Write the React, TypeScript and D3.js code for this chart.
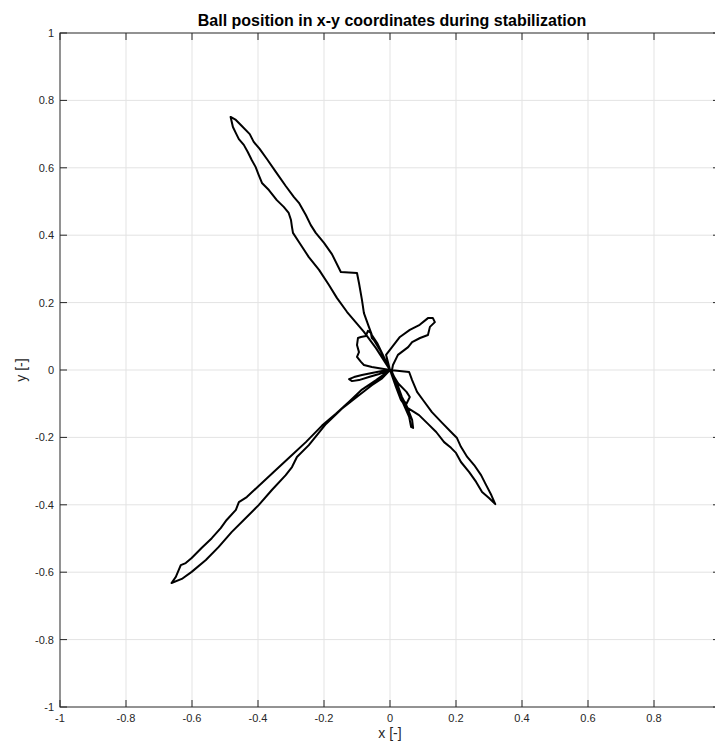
import React, { useEffect, useRef } from "react";
import * as d3 from "d3";

const title = "Ball position in x-y coordinates during stabilization";
const xLabel = "x [-]";
const yLabel = "y [-]";
const xTicks = [-1, -0.8, -0.6, -0.4, -0.2, 0, 0.2, 0.4, 0.6, 0.8, 1];
const yTicks = [-1, -0.8, -0.6, -0.4, -0.2, 0, 0.2, 0.4, 0.6, 0.8, 1];

type P = [number, number];

const upperLeftLobe: P[] = [
  [0, 0], [-0.0425, 0.065], [-0.079, 0.113], [-0.13, 0.172], [-0.161, 0.214], [-0.185, 0.252],
  [-0.215, 0.297], [-0.246, 0.335], [-0.276, 0.38], [-0.294, 0.407], [-0.297, 0.424], [-0.3, 0.445],
  [-0.307, 0.466], [-0.322, 0.484], [-0.343, 0.504], [-0.367, 0.534], [-0.388, 0.555], [-0.398, 0.579],
  [-0.407, 0.602], [-0.419, 0.623], [-0.431, 0.647], [-0.443, 0.668], [-0.458, 0.685], [-0.467, 0.703],
  [-0.476, 0.721], [-0.483, 0.751],
  [-0.467, 0.742], [-0.449, 0.724], [-0.425, 0.7], [-0.413, 0.677], [-0.395, 0.656], [-0.373, 0.626],
  [-0.346, 0.588], [-0.316, 0.546], [-0.291, 0.513], [-0.276, 0.496], [-0.255, 0.46], [-0.24, 0.43],
  [-0.225, 0.407], [-0.2, 0.377], [-0.176, 0.344], [-0.149, 0.291], [-0.1, 0.288], [-0.094, 0.258],
  [-0.085, 0.208], [-0.079, 0.169], [-0.064, 0.128], [-0.055, 0.104], [-0.039, 0.08], [-0.024, 0.05],
  [0, 0],
];

const leftSmallLobe: P[] = [
  [-0.055, 0.009], [-0.079, 0.015], [-0.088, 0.024], [-0.1, 0.039], [-0.094, 0.053], [-0.1, 0.074],
  [-0.097, 0.095], [-0.088, 0.098], [-0.073, 0.101], [-0.067, 0.116], [-0.058, 0.11], [-0.055, 0.095],
  [-0.049, 0.089], [-0.03, 0.059], [-0.015, 0.03], [0, 0],
];

const leftFlick: P[] = [
  [-0.024, -0.003], [-0.055, -0.009], [-0.085, -0.015], [-0.109, -0.021], [-0.124, -0.027],
  [-0.115, -0.033], [-0.094, -0.03], [-0.064, -0.021], [-0.033, -0.012], [0, 0],
];

const lowerLeftLobe: P[] = [
  [-0.042, -0.03], [-0.085, -0.058], [-0.124, -0.094], [-0.164, -0.13], [-0.206, -0.165],
  [-0.255, -0.214], [-0.297, -0.252], [-0.346, -0.297], [-0.398, -0.344], [-0.434, -0.377],
  [-0.458, -0.392], [-0.467, -0.415], [-0.495, -0.445], [-0.513, -0.469], [-0.54, -0.499],
  [-0.571, -0.528], [-0.601, -0.558], [-0.619, -0.573], [-0.634, -0.579], [-0.649, -0.614],
  [-0.662, -0.632],
  [-0.631, -0.62], [-0.601, -0.599], [-0.558, -0.564], [-0.519, -0.525], [-0.48, -0.481],
  [-0.437, -0.439], [-0.398, -0.401], [-0.358, -0.356], [-0.316, -0.312], [-0.297, -0.288],
  [-0.282, -0.258], [-0.246, -0.223], [-0.194, -0.16], [-0.146, -0.115], [-0.094, -0.075],
  [-0.055, -0.045], [-0.024, -0.025], [0, 0],
];

const lowerRightLobe: P[] = [
  [0.058, -0.006], [0.067, -0.03], [0.082, -0.065], [0.1, -0.089], [0.127, -0.125], [0.158, -0.157],
  [0.185, -0.184], [0.203, -0.202], [0.215, -0.228], [0.234, -0.258], [0.255, -0.282], [0.276, -0.312],
  [0.291, -0.341], [0.307, -0.371], [0.319, -0.398],
  [0.3, -0.38], [0.279, -0.362], [0.261, -0.332], [0.24, -0.303], [0.215, -0.273], [0.2, -0.246],
  [0.185, -0.231], [0.164, -0.214], [0.14, -0.184], [0.112, -0.157], [0.088, -0.134], [0.064, -0.119],
  [0.049, -0.11], [0.033, -0.089], [0.018, -0.05], [0, 0],
];

const downFlick: P[] = [
  [0.006, -0.006], [0.021, -0.039], [0.036, -0.08], [0.052, -0.11], [0.067, -0.148], [0.07, -0.172],
  [0.064, -0.169], [0.058, -0.139], [0.045, -0.11], [0.03, -0.077], [0.015, -0.039], [0, 0],
  [0.025, -0.04], [0.05, -0.065], [0.06, -0.08], [0.05, -0.1], [0.04, -0.09], [0, 0],
];

const upperRightLobe: P[] = [
  [-0.012, 0.045], [0.03, 0.098], [0.06, 0.119], [0.09, 0.134], [0.115, 0.154], [0.13, 0.154],
  [0.136, 0.142], [0.121, 0.128], [0.115, 0.104], [0.091, 0.095], [0.067, 0.083], [0.055, 0.068],
  [0.024, 0.045], [0.009, 0.015], [0.006, 0], [0, 0],
];

const trajectory: P[] = [
  ...upperLeftLobe,
  ...leftSmallLobe,
  ...leftFlick,
  ...lowerLeftLobe,
  ...lowerRightLobe,
  ...downFlick,
  ...upperRightLobe,
];

const W = 715;
const H = 742;
const left = 60;
const right = 720;
const top = 33;
const bottom = 707;

const fmt = (v: number) => {
  const r = Math.round(v * 10) / 10;
  return (Object.is(r, -0) ? 0 : r).toString();
};

export default function App() {
  const ref = useRef<SVGSVGElement>(null);
  useEffect(() => {
    const svg = d3.select(ref.current);
    svg.selectAll("*").remove();
    const x = d3.scaleLinear().domain([-1, 1]).range([left, right]);
    const y = d3.scaleLinear().domain([-1, 1]).range([bottom, top]);
    const axisColor = "#262626";
    const font = "Liberation Sans, Arial, Helvetica, sans-serif";

    svg.append("rect").attr("width", W).attr("height", H).attr("fill", "#fff");

    svg.append("defs").append("clipPath").attr("id", "plotclip")
      .append("rect").attr("x", left).attr("y", top).attr("width", right - left).attr("height", bottom - top);

    const grid = svg.append("g").attr("stroke", "#e3e3e3").attr("stroke-width", 1);
    xTicks.slice(1, -1).forEach((t) => {
      grid.append("line").attr("x1", x(t)).attr("x2", x(t)).attr("y1", top).attr("y2", bottom);
    });
    yTicks.slice(1, -1).forEach((t) => {
      grid.append("line").attr("y1", y(t)).attr("y2", y(t)).attr("x1", left).attr("x2", right);
    });

    const line = d3.line<P>().x((d) => x(d[0])).y((d) => y(d[1]));
    svg.append("path")
      .attr("clip-path", "url(#plotclip)")
      .attr("d", line(trajectory))
      .attr("fill", "none")
      .attr("stroke", "#000")
      .attr("stroke-width", 2)
      .attr("stroke-linejoin", "round")
      .attr("stroke-linecap", "round");

    const ax = svg.append("g").attr("stroke", axisColor).attr("stroke-width", 1);
    ax.append("rect").attr("x", left).attr("y", top).attr("width", right - left).attr("height", bottom - top).attr("fill", "none");
    const tl = 7;
    xTicks.forEach((t) => {
      ax.append("line").attr("x1", x(t)).attr("x2", x(t)).attr("y1", bottom).attr("y2", bottom - tl);
      ax.append("line").attr("x1", x(t)).attr("x2", x(t)).attr("y1", top).attr("y2", top + tl);
    });
    yTicks.forEach((t) => {
      ax.append("line").attr("y1", y(t)).attr("y2", y(t)).attr("x1", left).attr("x2", left + tl);
      ax.append("line").attr("y1", y(t)).attr("y2", y(t)).attr("x1", right).attr("x2", right - tl);
    });

    const labels = svg.append("g").attr("fill", axisColor).attr("font-family", font).attr("font-size", 11);
    xTicks.slice(0, -1).forEach((t) => {
      labels.append("text").attr("x", x(t)).attr("y", bottom + 15).attr("text-anchor", "middle").text(fmt(t));
    });
    yTicks.forEach((t) => {
      labels.append("text").attr("x", left - 6).attr("y", y(t) + 4).attr("text-anchor", "end").text(fmt(t));
    });

    svg.append("text").attr("x", (left + right) / 2 + 2).attr("y", 26).attr("text-anchor", "middle")
      .attr("font-family", font).attr("font-size", 16).attr("font-weight", "bold").attr("fill", "#000").text(title);
    svg.append("text").attr("x", (left + right) / 2).attr("y", 738).attr("text-anchor", "middle")
      .attr("font-family", font).attr("font-size", 14).attr("fill", axisColor).text(xLabel);
    svg.append("text").attr("transform", `translate(26, ${(top + bottom) / 2}) rotate(-90)`).attr("text-anchor", "middle")
      .attr("font-family", font).attr("font-size", 14).attr("fill", axisColor).text(yLabel);
  }, []);

  return (
    <svg ref={ref} width={W} height={H} style={{ position: "absolute", left: 0, top: 0 }} />
  );
}
